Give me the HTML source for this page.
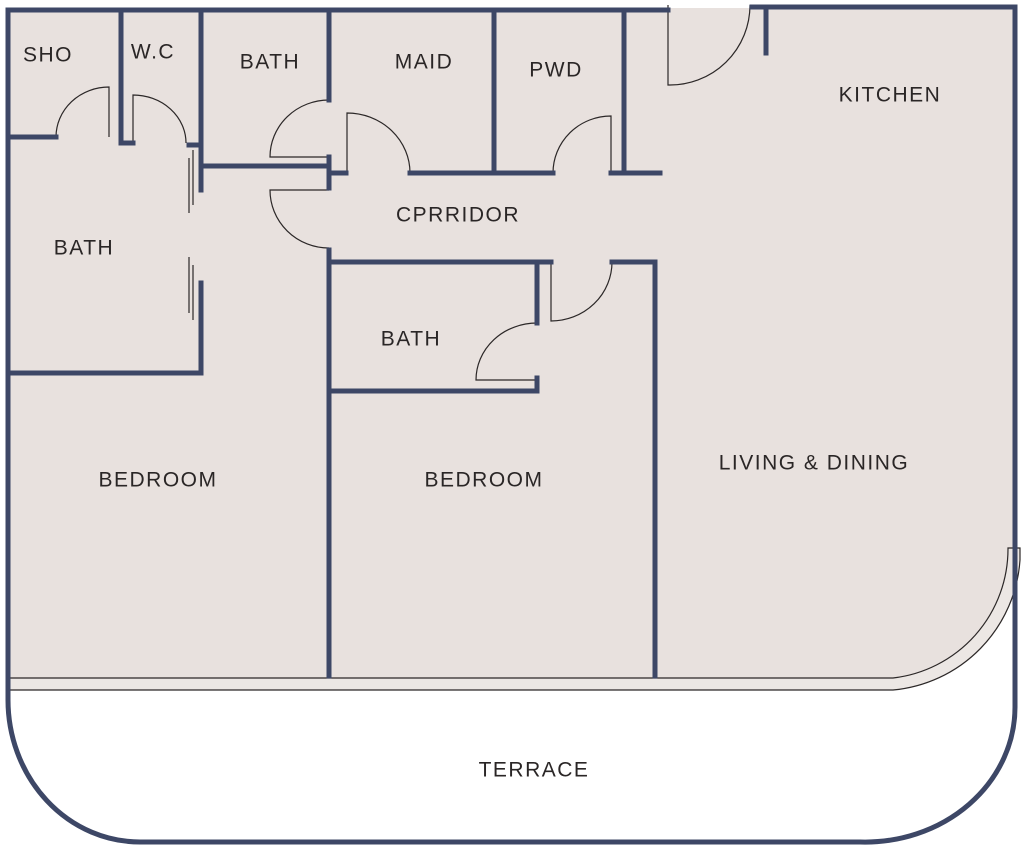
<!DOCTYPE html>
<html><head><meta charset="utf-8"><style>
html,body{margin:0;padding:0;background:#fff;}
svg{display:block;}
text{font-family:"Liberation Sans",sans-serif;font-size:21px;letter-spacing:1.5px;fill:#2a2626;text-anchor:middle;dominant-baseline:central;}
</style></head><body>
<svg width="1030" height="852" viewBox="0 0 1030 852" xmlns="http://www.w3.org/2000/svg">
<path d="M8,8 H1015 V548 L1008,548 A130,130 0 0 1 893,678 H8 Z" fill="#e8e1de"/>
<rect x="8" y="540" width="1007" height="10" fill="#e8e1de"/>
<path d="M1008,548 A130,130 0 0 1 893,678 H8 V690 H893 A137,137 0 0 0 1020,552 V548 Z" fill="#ece7e4"/>
<g fill="none" stroke="#2b2727" stroke-width="1.2">
<path d="M8,678 H893 A130,130 0 0 0 1008,548 H1020 V560 A140,140 0 0 1 893,690 H8"/>
<path d="M668,5 V85 A80,80 0 0 0 750,5"/>
<path d="M56,137 A53,50 0 0 1 109,87 V137"/>
<path d="M133,143 V95 A53,48 0 0 1 186,143"/>
<path d="M189,158 V213 M193,150 V205 M189,257 V313 M193,265 V320"/>
<path d="M329,100 A59,57 0 0 0 270,157 H329"/>
<path d="M347,173 V113 A63,60 0 0 1 410,173"/>
<path d="M611,173 V116 A58,57 0 0 0 553,173"/>
<path d="M329,190 H270 A59,58 0 0 0 329,248"/>
<path d="M551,262 V321 A61,59 0 0 0 612,262"/>
<path d="M537,380 H476 A61,57 0 0 1 537,323"/>
</g>
<g fill="none" stroke="#3d4766" stroke-width="5" stroke-linecap="square">
<path d="M8,10 H668"/>
<path d="M752,7 H1015 V707 A150,135 0 0 1 860,842 H140 A132,142 0 0 1 8,700 V10"/>
<path d="M766,7 V53"/>
<path d="M8,137 H56"/>
<path d="M121,10 V143 H133"/>
<path d="M201,10 V190 M189,145 H201"/>
<path d="M201,283 V373 H8"/>
<path d="M201,166 H329"/>
<path d="M329,10 V100"/>
<path d="M329,157 V188 M329,173 H346"/>
<path d="M410,173 H553"/>
<path d="M494,10 V173"/>
<path d="M624,10 V173 M611,173 H660"/>
<path d="M329,250 V676"/>
<path d="M329,262 H551 M537,262 V323"/>
<path d="M612,262 H655 V676"/>
<path d="M537,378 V391 H329"/>
</g>
<text x="48" y="55">SHO</text>
<text x="153" y="52">W.C</text>
<text x="270" y="62">BATH</text>
<text x="424" y="62">MAID</text>
<text x="556" y="70">PWD</text>
<text x="890" y="95">KITCHEN</text>
<text x="84" y="248">BATH</text>
<text x="458" y="215">CPRRIDOR</text>
<text x="411" y="339">BATH</text>
<text x="158" y="480">BEDROOM</text>
<text x="484" y="480">BEDROOM</text>
<text x="814" y="463">LIVING &amp; DINING</text>
<text x="534" y="770">TERRACE</text>
</svg>
</body></html>
